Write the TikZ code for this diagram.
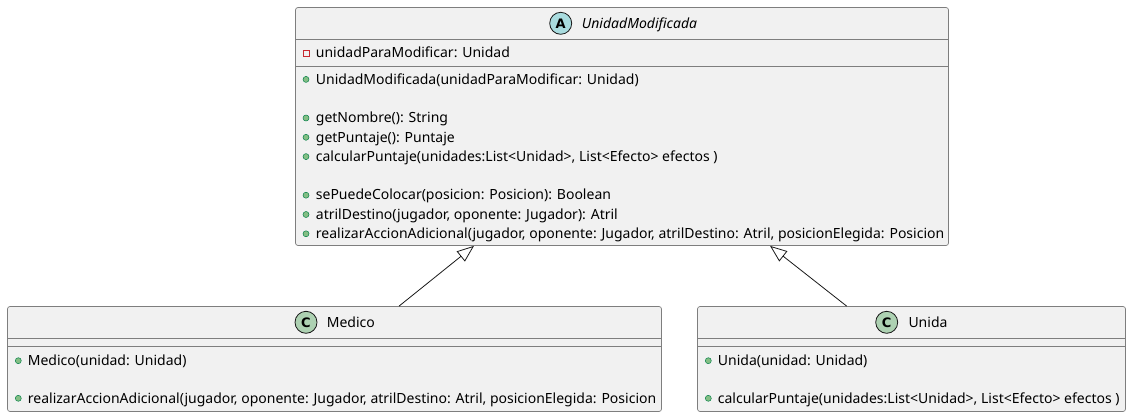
\documentclass[tikz,border=0pt]{standalone}
\usepackage{fontspec}
\setmainfont{Noto Sans}
\newfontfamily\iconfont{DejaVu Sans}
\usetikzlibrary{arrows.meta,calc}
\definecolor{boxfill}{HTML}{F1F1F1}
\definecolor{boxdraw}{HTML}{7E7E7E}
\definecolor{linedraw}{HTML}{181818}
\definecolor{absfill}{HTML}{A9DCDF}
\definecolor{clsfill}{HTML}{ADD1B2}
\definecolor{pubfill}{HTML}{84BE84}
\definecolor{pubdraw}{HTML}{038048}
\definecolor{privdraw}{HTML}{C82930}
\tikzset{
  classbox/.style={draw=boxdraw, fill=boxfill, line width=0.7pt, rounded corners=2.5pt, inner sep=0pt},
  sepline/.style={draw=boxdraw, line width=0.7pt},
  member/.style={anchor=base west, inner sep=0pt, font=\fontsize{14}{16}\selectfont},
  titletext/.style={anchor=base west, inner sep=0pt, font=\fontsize{14}{16}\selectfont},
  pubicon/.style={circle, fill=pubfill, draw=pubdraw, line width=0.5pt, minimum size=6pt, inner sep=0pt},
  privicon/.style={rectangle, draw=privdraw, line width=0.8pt, minimum size=6pt, inner sep=0pt},
  classicon/.style={circle, draw=linedraw, line width=0.8pt, minimum size=22pt, inner sep=0pt, font=\iconfont\fontsize{13}{15}\selectfont\bfseries},
  inherit/.style={draw=linedraw, line width=0.8pt, -{Triangle[open, length=17pt, width=13pt]}}
}
\begin{document}
\begin{tikzpicture}[x=1pt,y=-1pt]
\useasboundingbox (0,0) rectangle (1131,417);
% boxes
\node[classbox, minimum width=653pt, minimum height=238pt] (umod) at (622,126.5) {};
\node[classbox, minimum width=654pt, minimum height=105pt] (medico) at (334.5,359) {};
\node[classbox, minimum width=428pt, minimum height=105pt] (unida) at (911.5,359) {};
% separators
\draw[sepline] (umod.west |- 0,39) -- (umod.east |- 0,39);
\draw[sepline] (umod.west |- 0,66) -- (umod.east |- 0,66);
\draw[sepline] (medico.west |- 0,338.5) -- (medico.east |- 0,338.5);
\draw[sepline] (medico.west |- 0,346.5) -- (medico.east |- 0,346.5);
\draw[sepline] (unida.west |- 0,338.5) -- (unida.east |- 0,338.5);
\draw[sepline] (unida.west |- 0,346.5) -- (unida.east |- 0,346.5);
% headers
\node[classicon, fill=absfill] (iconA) at (560.7,23.3) {A};
\node[titletext] (tA) at (581.7,28.3) {\itshape UnidadModificada};
\node[classicon, fill=clsfill] (iconM) at (306,322.3) {C};
\node[titletext] (tM) at (326.7,327.3) {Medico};
\node[classicon, fill=clsfill] (iconU) at (886.7,322.3) {C};
\node[titletext] (tU) at (908.3,327.3) {Unida};
% UnidadModificada members
\node[privicon] (a1i) at (306.5,53.3) {};
\node[member] (a1) at (315.7,58) {unidadParaModificar: Unidad};
\node[pubicon] (m1i) at (306,79.4) {};
\node[member] (m1) at (315.7,84.1) {UnidadModificada(unidadParaModificar: Unidad)};
\node[pubicon] (m2i) at (306,118) {};
\node[member] (m2) at (315.7,122.7) {getNombre(): String};
\node[pubicon] (m3i) at (306,137.3) {};
\node[member] (m3) at (315.7,142) {getPuntaje(): Puntaje};
\node[pubicon] (m4i) at (306,156.6) {};
\node[member] (m4) at (315.7,161.3) {calcularPuntaje(unidades:List<Unidad>, List<Efecto> efectos )};
\node[pubicon] (m5i) at (306,195.2) {};
\node[member] (m5) at (315.7,199.9) {sePuedeColocar(posicion: Posicion): Boolean};
\node[pubicon] (m6i) at (306,214.5) {};
\node[member] (m6) at (315.7,219.2) {atrilDestino(jugador, oponente: Jugador): Atril};
\node[pubicon] (m7i) at (306,233.8) {};
\node[member] (m7) at (315.7,238.5) {realizarAccionAdicional(jugador, oponente: Jugador, atrilDestino: Atril, posicionElegida: Posicion};
% Medico members
\node[pubicon] (md1i) at (18.3,360.7) {};
\node[member] (md1) at (27.7,365.4) {Medico(unidad: Unidad)};
\node[pubicon] (md2i) at (18.3,398.3) {};
\node[member] (md2) at (27.7,403) {realizarAccionAdicional(jugador, oponente: Jugador, atrilDestino: Atril, posicionElegida: Posicion};
% Unida members
\node[pubicon] (u1i) at (708.3,360.7) {};
\node[member] (u1) at (717.7,365.4) {Unida(unidad: Unidad)};
\node[pubicon] (u2i) at (708.3,398.3) {};
\node[member] (u2) at (717.7,403) {calcularPuntaje(unidades:List<Unidad>, List<Efecto> efectos )};
% inheritance
\draw[inherit] (medico.north -| 399,0) -- (umod.south -| 474,0);
\draw[inherit] (unida.north -| 846.7,0) -- (umod.south -| 770,0);
\end{tikzpicture}
\end{document}
